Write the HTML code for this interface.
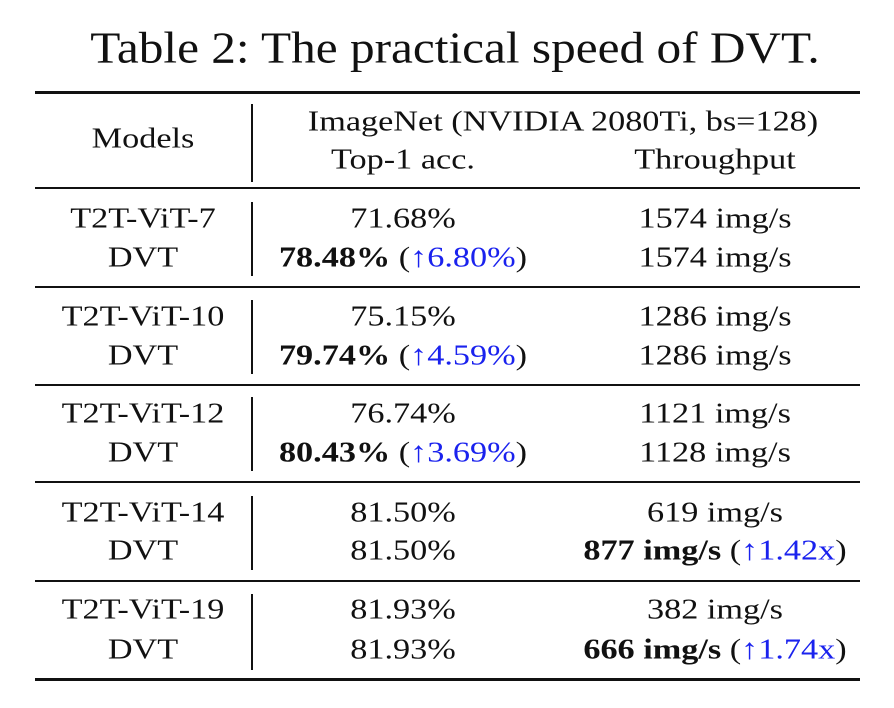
<!DOCTYPE html>
<html><head><meta charset="utf-8"><style>
body{margin:0;width:894px;height:708px;background:#fff;position:relative;overflow:hidden;font-family:"Liberation Serif",serif;color:#111}
.t{position:absolute;white-space:nowrap;font-size:29px;transform:translate(-50%,-50%) scaleX(1.18)}
.r{position:absolute;left:35px;width:825px;background:#111}
.v{position:absolute;left:251px;width:1.5px;background:#111}
.b{color:#1a22ee}
</style></head><body>
<div class="t" style="left:455px;top:48px;font-size:44px;transform:translate(-50%,-50%) scaleX(1.12)">Table 2: The practical speed of DVT.</div>
<div class="r" style="top:91px;height:3px"></div>
<div class="t" style="left:143px;top:139px">Models</div>
<div class="v" style="top:104px;height:78px"></div>
<div class="t" style="left:563px;top:122px">ImageNet (NVIDIA 2080Ti, bs=128)</div>
<div class="t" style="left:403px;top:160px">Top-1 acc.</div>
<div class="t" style="left:715px;top:160px">Throughput</div>
<div class="r" style="top:187px;height:2px"></div>

<div class="t" style="left:143px;top:219px">T2T-ViT-7</div>
<div class="t" style="left:143px;top:258px">DVT</div>
<div class="v" style="top:202px;height:74px"></div>
<div class="t" style="left:403px;top:219px">71.68%</div>
<div class="t" style="left:403px;top:258px"><b>78.48%</b> (<span class="b">↑6.80%</span>)</div>
<div class="t" style="left:715px;top:219px">1574 img/s</div>
<div class="t" style="left:715px;top:258px">1574 img/s</div>
<div class="r" style="top:286px;height:2px"></div>

<div class="t" style="left:143px;top:317px">T2T-ViT-10</div>
<div class="t" style="left:143px;top:356px">DVT</div>
<div class="v" style="top:300px;height:74px"></div>
<div class="t" style="left:403px;top:317px">75.15%</div>
<div class="t" style="left:403px;top:356px"><b>79.74%</b> (<span class="b">↑4.59%</span>)</div>
<div class="t" style="left:715px;top:317px">1286 img/s</div>
<div class="t" style="left:715px;top:356px">1286 img/s</div>
<div class="r" style="top:384px;height:2px"></div>

<div class="t" style="left:143px;top:414px">T2T-ViT-12</div>
<div class="t" style="left:143px;top:453px">DVT</div>
<div class="v" style="top:397px;height:74px"></div>
<div class="t" style="left:403px;top:414px">76.74%</div>
<div class="t" style="left:403px;top:453px"><b>80.43%</b> (<span class="b">↑3.69%</span>)</div>
<div class="t" style="left:715px;top:414px">1121 img/s</div>
<div class="t" style="left:715px;top:453px">1128 img/s</div>
<div class="r" style="top:481px;height:2px"></div>

<div class="t" style="left:143px;top:513px">T2T-ViT-14</div>
<div class="t" style="left:143px;top:551px">DVT</div>
<div class="v" style="top:496px;height:74px"></div>
<div class="t" style="left:403px;top:513px">81.50%</div>
<div class="t" style="left:403px;top:551px">81.50%</div>
<div class="t" style="left:715px;top:513px">619 img/s</div>
<div class="t" style="left:715px;top:551px"><b>877 img/s</b> (<span class="b">↑1.42x</span>)</div>
<div class="r" style="top:580px;height:2px"></div>

<div class="t" style="left:143px;top:610px">T2T-ViT-19</div>
<div class="t" style="left:143px;top:650px">DVT</div>
<div class="v" style="top:594px;height:76px"></div>
<div class="t" style="left:403px;top:610px">81.93%</div>
<div class="t" style="left:403px;top:650px">81.93%</div>
<div class="t" style="left:715px;top:610px">382 img/s</div>
<div class="t" style="left:715px;top:650px"><b>666 img/s</b> (<span class="b">↑1.74x</span>)</div>
<div class="r" style="top:678px;height:3px"></div>
</body></html>
